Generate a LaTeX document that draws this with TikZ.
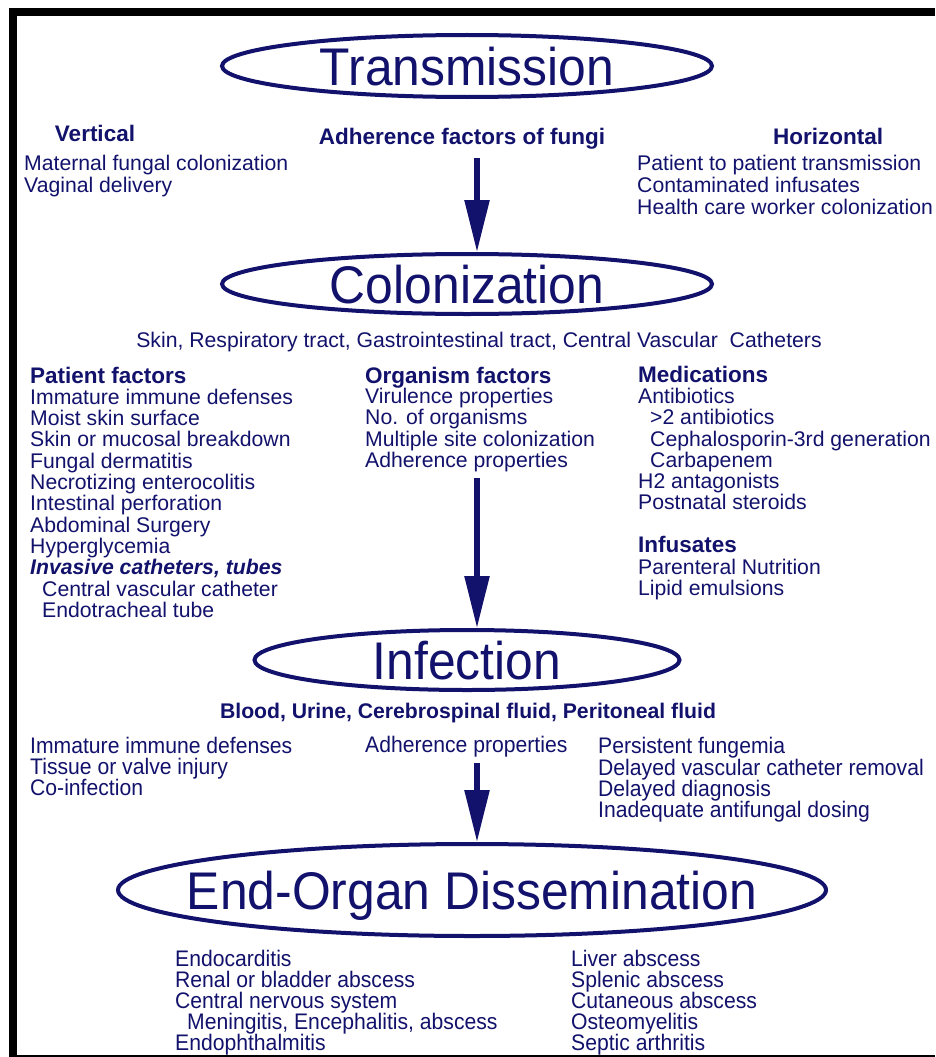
\documentclass[tikz,border=0pt]{standalone}
\usepackage{fontspec}
\setmainfont{Liberation Sans}
\newfontfamily\condfont[FakeStretch=0.94]{Liberation Sans}
\newfontfamily\titlefont[FakeStretch=0.94]{Liberation Sans}
\usetikzlibrary{shapes.geometric,arrows.meta}
\definecolor{navy}{RGB}{18,18,108}
\tikzset{
  txt/.style={font=\fontsize{21.2}{21.2}\selectfont, text=navy, inner sep=0pt, anchor=base west},
  hd/.style={font=\fontsize{22.5}{22.5}\selectfont\bfseries, text=navy, inner sep=0pt, anchor=base west},
  hdc/.style={hd, anchor=base},
  boldline/.style={font=\fontsize{21.2}{21.2}\selectfont\bfseries, text=navy, inner sep=0pt, anchor=base},
  cnd/.style={font=\condfont\fontsize{22.5}{22.5}\selectfont, text=navy, inner sep=0pt, anchor=base west},
  ttl/.style={font=\titlefont\fontsize{53}{53}\selectfont, text=navy, inner sep=0pt, text depth=0pt},
  oval/.style={ellipse, draw=navy, line width=4pt, inner sep=0pt},
  bigarrow/.style={draw=navy, line width=5.5pt, -{Triangle[length=52pt,width=24pt]}, fill=navy},
}
\begin{document}
\begin{tikzpicture}[x=1pt,y=-1pt]
\useasboundingbox (0,0) rectangle (935,1057);
\fill[white] (0,0) rectangle (935,1057);
% frame
\fill[black] (9,8) rectangle (935,16);
\fill[black] (9,8) rectangle (17,1057);
\fill[black] (9,1054.5) rectangle (935,1057);

% ---- Transmission
\node[oval, minimum width=490pt, minimum height=62pt] (transE) at (467,66) {};
\node[ttl] (trans) at (467,66) {Transmission};
\node[hdc] (vert) at (95,141) {Vertical};
\node[hdc] (adh) at (462,144) {Adherence factors of fungi};
\node[hdc] (horiz) at (828,144) {Horizontal};
\node[txt] (v1) at (24,170) {Maternal fungal colonization};
\node[txt] (v2) at (24,192) {Vaginal delivery};
\node[txt] (h1) at (637,170) {Patient to patient transmission};
\node[txt] (h2) at (637,192) {Contaminated infusates};
\node[txt] (h3) at (637,214) {Health care worker colonization};

% ---- Colonization
\node[oval, minimum width=490pt, minimum height=60pt] (colonE) at (467,284) {};
\node[ttl] (colon) at (467,284) {Colonization};
\coordinate (a1s) at (477,158);
\draw[bigarrow] (a1s) -- (a1s |- colonE.north);
\node[boldline, font=\fontsize{21.2}{21.2}\selectfont] (sites) at (479,347) {Skin, Respiratory tract, Gastrointestinal tract, Central Vascular\ \ Catheters};

% patient factors
\node[hd] (pf) at (30,383) {Patient factors};
\node[txt] (pf1) at (30,404.3) {Immature immune defenses};
\node[txt] (pf2) at (30,425.6) {Moist skin surface};
\node[txt] (pf3) at (30,446.9) {Skin or mucosal breakdown};
\node[txt] (pf4) at (30,468.2) {Fungal dermatitis};
\node[txt] (pf5) at (30,489.5) {Necrotizing enterocolitis};
\node[txt] (pf6) at (30,510.8) {Intestinal perforation};
\node[txt] (pf7) at (30,532.1) {Abdominal Surgery};
\node[txt] (pf8) at (30,553.4) {Hyperglycemia};
\node[txt, font=\fontsize{21.2}{21.2}\selectfont\bfseries\itshape] (pf9) at (30,574.7) {Invasive catheters, tubes};
\node[txt] (pf10) at (42,596) {Central vascular catheter};
\node[txt] (pf11) at (42,617.3) {Endotracheal tube};

% organism factors
\node[hd] (of) at (365,383) {Organism factors};
\node[txt] (of1) at (365,403.5) {Virulence properties};
\node[txt] (of2) at (365,424.8) {No. of organisms};
\node[txt] (of3) at (365,446.1) {Multiple site colonization};
\node[txt] (of4) at (365,467.4) {Adherence properties};

% medications
\node[hd] (med) at (638,382) {Medications};
\node[txt] (m1) at (638,403) {Antibiotics};
\node[txt] (m2) at (650,424) {>2 antibiotics};
\node[txt] (m3) at (650,446) {Cephalosporin-3rd generation};
\node[txt] (m4) at (650,467) {Carbapenem};
\node[txt] (m5) at (638,488) {H2 antagonists};
\node[txt] (m6) at (638,509) {Postnatal steroids};
\node[hd] (inf) at (638,552) {Infusates};
\node[txt] (i1) at (638,574) {Parenteral Nutrition};
\node[txt] (i2) at (638,595) {Lipid emulsions};

% ---- Infection
\node[oval, minimum width=425pt, minimum height=60pt] (infectE) at (467,660) {};
\node[ttl] (infect) at (467,660) {Infection};
\coordinate (a2s) at (477,478);
\draw[bigarrow] (a2s) -- (a2s |- infectE.north);
\node[boldline] (fluids) at (468,718) {Blood, Urine, Cerebrospinal fluid, Peritoneal fluid};
\node[cnd] (l1) at (30,753) {Immature immune defenses};
\node[cnd] (l2) at (30,774) {Tissue or valve injury};
\node[cnd] (l3) at (30,795) {Co-infection};
\node[cnd] (c1) at (365,752) {Adherence properties};
\node[cnd] (r1) at (598,753) {Persistent fungemia};
\node[cnd] (r2) at (598,775) {Delayed vascular catheter removal};
\node[cnd] (r3) at (598,796) {Delayed diagnosis};
\node[cnd] (r4) at (598,817) {Inadequate antifungal dosing};

% ---- End-Organ Dissemination
\node[oval, minimum width=708pt, minimum height=92pt] (endE) at (472,890) {};
\node[ttl] (endorg) at (472,890) {End-Organ Dissemination};
\coordinate (a3s) at (477,763);
\draw[bigarrow] (a3s) -- (a3s |- endE.north);
\node[cnd] (b1) at (175,966) {Endocarditis};
\node[cnd] (b2) at (175,987) {Renal or bladder abscess};
\node[cnd] (b3) at (175,1008) {Central nervous system};
\node[cnd] (b4) at (187,1029) {Meningitis, Encephalitis, abscess};
\node[cnd] (b5) at (175,1050) {Endophthalmitis};
\node[cnd] (c6) at (571,966) {Liver abscess};
\node[cnd] (c7) at (571,987) {Splenic abscess};
\node[cnd] (c8) at (571,1008) {Cutaneous abscess};
\node[cnd] (c9) at (571,1029) {Osteomyelitis};
\node[cnd] (c10) at (571,1050) {Septic arthritis};
\end{tikzpicture}
\end{document}
